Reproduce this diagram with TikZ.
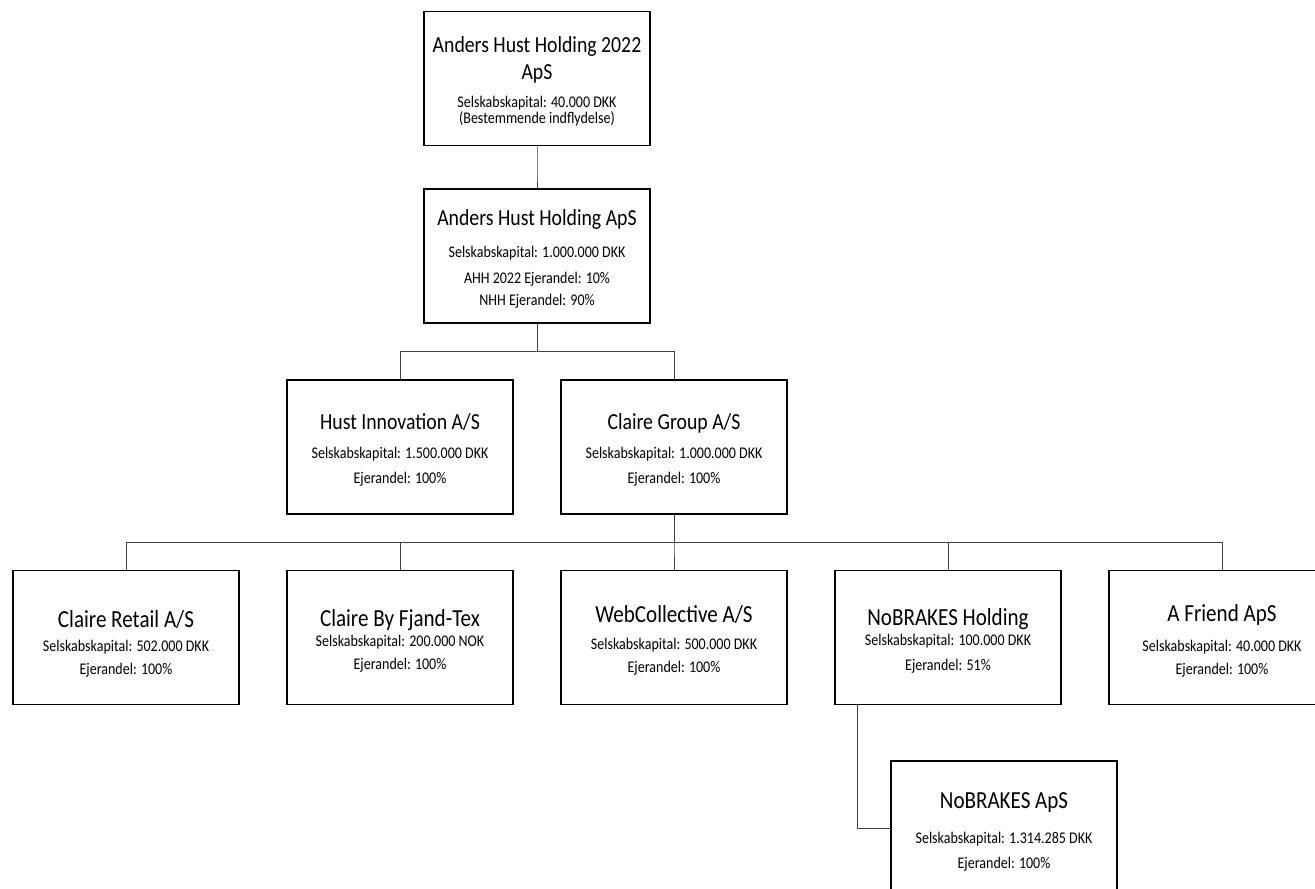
\documentclass[tikz,border=0pt]{standalone}
\usepackage{fontspec}
\setmainfont{Carlito}[FakeStretch=0.86]
\usetikzlibrary{trees,positioning}

\tikzset{
  selskab/.style={draw=black, line width=1.6pt, fill=white, minimum width=226pt,
    minimum height=134pt, inner sep=0pt, align=center,
    font=\fontsize{16.3}{30}\selectfont},
  forbindelse/.style={draw=black!75, line width=0.9pt}
}
\newcommand{\navn}[2][23]{{\fontsize{#1}{30}\selectfont\rule{0pt}{0.95em}#2}}

\begin{document}
\begin{tikzpicture}[x=1pt,y=1pt,
	  edge from parent/.style={forbindelse},
	  edge from parent path={(\tikzparentnode.south) -- ++(0,-28pt) -| (\tikzchildnode.north)},
	  level 1/.style={level distance=177.5pt},
	  level 2/.style={level distance=191pt, sibling distance=274pt},
	  level 3/.style={level distance=190.5pt, sibling distance=274pt},
	  level 4/.style={level distance=190.5pt}]
	  \useasboundingbox (0,0) rectangle (1315,-889);
	  \node[selskab] (ahh22) at (537,-78.5) {\navn{Anders Hust Holding 2022}\\[-3pt]\navn{ApS}\\[-1.4pt]
	      Selskabskapital: 40.000 DKK\\[-14pt](Bestemmende indflydelse)}
	    child {node[selskab] (ahh) {\navn{Anders Hust Holding ApS}\\[1.6pt]
	        Selskabskapital: 1.000.000 DKK\\[-4pt]AHH 2022 Ejerandel: 10\%\\[-8pt]NHH Ejerandel: 90\%}
	      child {node[selskab] (hust) {\navn{Hust Innovation A/S}\\[-1.4pt]
	          Selskabskapital: 1.500.000 DKK\\[-5pt]Ejerandel: 100\%}}
	      child {node[selskab] (claire) {\navn{Claire Group A/S}\\[-1.4pt]
	          Selskabskapital: 1.000.000 DKK\\[-5pt]Ejerandel: 100\%}
	        child {node[selskab] (retail) {\navn[24.5]{\rule{0pt}{1.2em}Claire Retail A/S}\\[-5.6pt]
	            Selskabskapital: 502.000 DKK\\[-7pt]Ejerandel: 100\%}}
	        child {node[selskab] (fjandtex) {\navn[24.5]{Claire By Fjand-Tex}\\[-9.6pt]
	            Selskabskapital: 200.000 NOK\\[-7pt]Ejerandel: 100\%}}
	        child {node[selskab] (webcol) {\navn[24.5]{WebCollective A/S}\\[-2.6pt]
	            Selskabskapital: 500.000 DKK\\[-7pt]Ejerandel: 100\%}}
	        child {node[selskab] (nbholding) {\navn[24.5]{NoBRAKES Holding}\\[-9.6pt]
	            Selskabskapital: 100.000 DKK\\[-5pt]Ejerandel: 51\%}
	          child[xshift=56pt, edge from parent path={(\tikzparentnode.south west) ++(23pt,0) |- (\tikzchildnode.west)}]
	            {node[selskab] (nbaps) {\navn[24.5]{NoBRAKES ApS}\\[5.4pt]
	              Selskabskapital: 1.314.285 DKK\\[-5pt]Ejerandel: 100\%}}
	        }
	        child {node[selskab] (friend) {\navn[24.5]{A Friend ApS}\\[0.4pt]
	            Selskabskapital: 40.000 DKK\\[-7pt]Ejerandel: 100\%}}
	      }
	    };
	\end{tikzpicture}
\end{document}
